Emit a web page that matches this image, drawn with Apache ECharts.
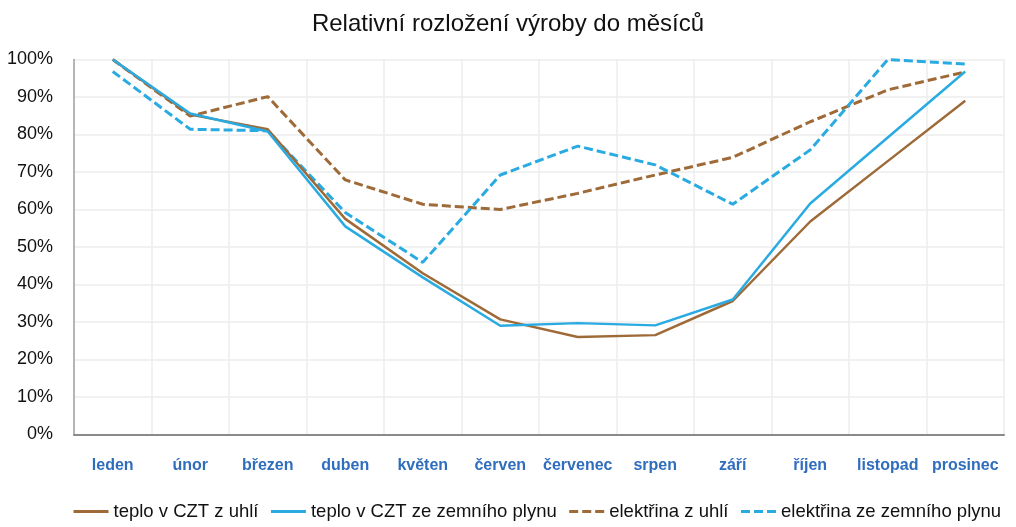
<!DOCTYPE html>
<html>
<head>
<meta charset="utf-8">
<script src="https://cdn.jsdelivr.net/npm/echarts@6/dist/echarts.min.js"></script>
<style>html,body{margin:0;padding:0;background:#fff}#c{width:1016px;height:527px}</style>
</head>
<body>
<div id="c"></div>
<script>
const months = ['leden','únor','březen','duben','květen','červen','červenec','srpen','září','říjen','listopad','prosinec'];
const teploUhli = [100, 85.3, 81.4, 57.5, 43.0, 30.7, 26.0, 26.5, 35.6, 56.8, 72.9, 89.0];
const teploPlyn = [100, 85.6, 80.8, 55.5, 41.9, 29.0, 29.7, 29.1, 36.0, 61.6, 79.2, 96.8];
const elektrinaUhli = [100, 84.9, 90.1, 67.9, 61.4, 60.0, 64.3, 69.2, 73.9, 83.4, 91.9, 96.7];
const elektrinaPlyn = [96.8, 81.4, 81.0, 59.2, 45.9, 69.2, 76.9, 71.9, 61.4, 75.9, 100, 98.8];
const seriesNames = ['teplo v CZT z uhlí','teplo v CZT ze zemního plynu','elektřina z uhlí','elektřina ze zemního plynu'];

const BROWN = '#9E6A38', BLUE = '#29ABE2';
const FONT = 'Liberation Sans, Arial, sans-serif';
const chart = echarts.init(document.getElementById('c'), null, {renderer: 'canvas'});
function line(name, data, color, dashed) {
  return {
    name, type: 'line', data, symbol: 'none', smooth: false,
    lineStyle: {color, width: dashed ? 3 : 2.5, type: dashed ? [9, 4] : 'solid', cap: 'butt'},
    itemStyle: {color}, z: dashed ? 2 : 3
  };
}
chart.setOption({
  animation: false,
  backgroundColor: '#fff',
  title: {
    text: 'Relativní rozložení výroby do měsíců', left: 'center', top: 7,
    textStyle: {fontFamily: FONT, fontSize: 24, fontWeight: 'normal', color: '#111'}
  },
  legend: {
    bottom: 6, left: 72, right: 0, padding: 0, itemWidth: 35, itemHeight: 14, itemGap: 11,
    itemStyle: {opacity: 0, borderWidth: 0},
    lineStyle: {width: 3},
    textStyle: {fontFamily: FONT, fontSize: 18.5, color: '#111'},
    data: seriesNames
  },
  grid: {left: 74, right: 12, top: 59.5, bottom: 92.5, containLabel: false},
  xAxis: {
    type: 'category', data: months, boundaryGap: true,
    axisLine: {lineStyle: {color: '#8a8a8a', width: 2}},
    axisTick: {show: false, interval: 0},
    splitLine: {show: true, interval: 0, lineStyle: {color: '#ececec', width: 1.5}},
    axisLabel: {interval: 0, fontFamily: FONT, fontSize: 16, fontWeight: 'bold', color: '#2F6DBD', margin: 23}
  },
  yAxis: {
    type: 'value', min: 0, max: 100, interval: 10,
    axisLine: {show: true, lineStyle: {color: '#a0a0a0', width: 1.5}},
    axisTick: {show: false},
    splitLine: {lineStyle: {color: '#ececec', width: 1.5}},
    axisLabel: {fontFamily: FONT, fontSize: 18, color: '#111', margin: 21, formatter: '{value}%'}
  },
  series: [
    line(seriesNames[0], teploUhli, BROWN, false),
    line(seriesNames[1], teploPlyn, BLUE, false),
    line(seriesNames[2], elektrinaUhli, BROWN, true),
    line(seriesNames[3], elektrinaPlyn, BLUE, true)
  ]
});
</script>
</body>
</html>
